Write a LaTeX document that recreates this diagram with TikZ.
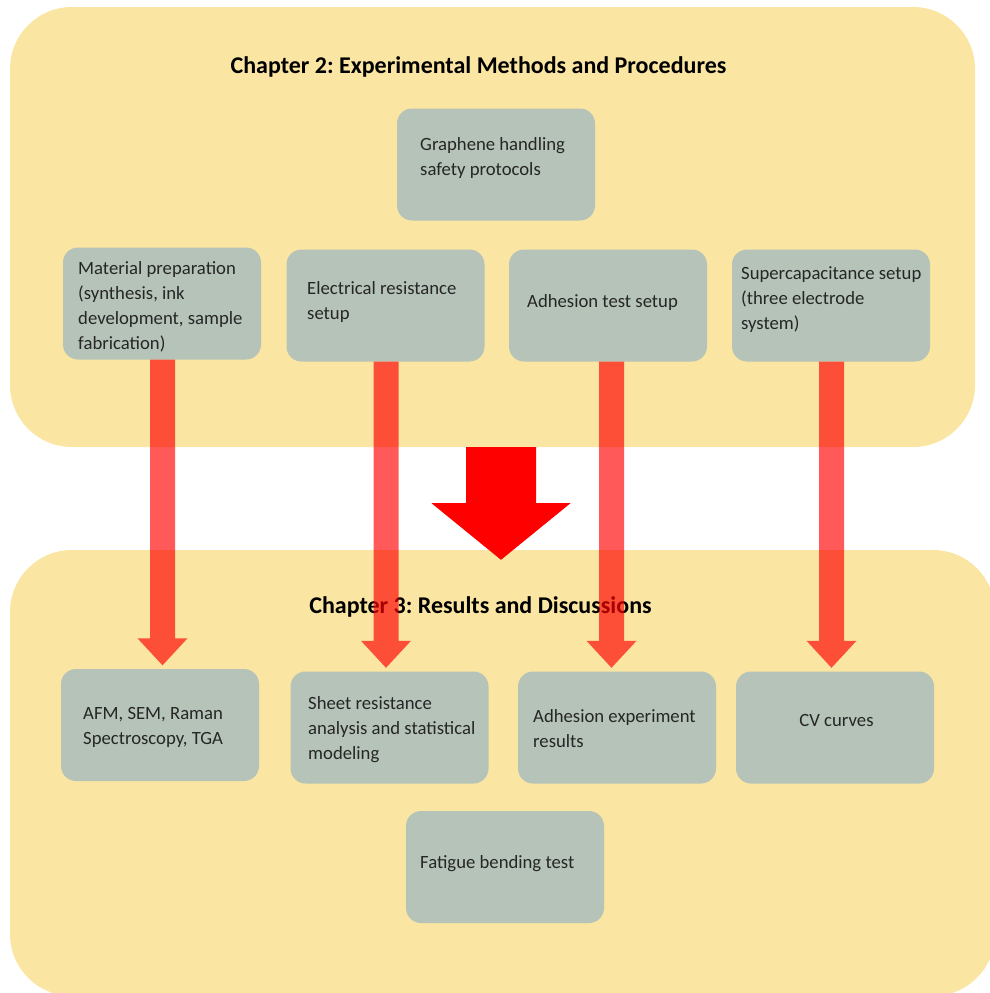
\documentclass[tikz,border=0pt]{standalone}
\usepackage{fontspec}
\setmainfont{Carlito}
\usetikzlibrary{calc}
\frenchspacing
\definecolor{panelY}{HTML}{FAE5A2}
\definecolor{boxG}{HTML}{B5C3B8}
\definecolor{txtC}{HTML}{262626}
\newcommand\fatarr[3]{%
  \fill[thinarrow] let \p1=(#1.south), \p2=(#2.north) in
  (\x1+#3pt-12.5pt,\y1) -- (\x1+#3pt-12.5pt,\y2+30.5pt) -- (\x1+#3pt-25pt,\y2+30.5pt)
  -- (\x1+#3pt,\y2+3.5pt) -- (\x1+#3pt+25pt,\y2+30.5pt) -- (\x1+#3pt+12.5pt,\y2+30.5pt)
  -- (\x1+#3pt+12.5pt,\y1) -- cycle;}
\begin{document}
\begin{tikzpicture}[x=1pt,y=-1pt,
  panel/.style={fill=panelY, draw=none, rounded corners=62pt, inner sep=0pt},
  cbox/.style={fill=boxG, draw=none, rounded corners=15pt, minimum width=198pt, minimum height=112pt, inner sep=0pt},
  ctext/.style={anchor=west, align=left, inner sep=0pt, text=txtC, font=\fontsize{18.7}{25}\selectfont},
  ctitle/.style={inner sep=0pt, font=\fontsize{24}{28}\selectfont\bfseries},
  thinarrow/.style={fill=red, fill opacity=0.65},
  bigarrow/.style={fill=red}]
\useasboundingbox (0,0) rectangle (989,993);

% panels
\node[panel, minimum width=965pt, minimum height=440pt] (p2) at (492.5,227) {};
\node[panel, minimum width=985pt, minimum height=446pt] (p3) at (502.5,773) {};

% boxes, chapter 2
\node[cbox] (b0) at (496,164.5) {};
\node[cbox] (b1) at (162,303.5) {};
\node[cbox] (b2) at (385.5,305.5) {};
\node[cbox] (b3) at (608,305.5) {};
\node[cbox] (b4) at (831,305.5) {};
% boxes, chapter 3
\node[cbox] (r1) at (160,725) {};
\node[cbox] (r2) at (389.5,727.5) {};
\node[cbox] (r3) at (617,727.5) {};
\node[cbox] (r4) at (835,727.5) {};
\node[cbox] (r5) at (505,867) {};

% texts
\node[ctext] (t0) at (420,157.5) {\strut Graphene handling\\\strut safety protocols};
\node[ctext] (t1) at (78,306.5) {\strut Material preparation\\\strut (synthesis, ink\\\strut development, sample\\\strut fabrication)};
\node[ctext] (t2) at (307,302) {\strut Electrical resistance\\\strut setup};
\node[ctext] (t3) at (527,302) {\strut Adhesion test setup};
\node[ctext] (t4) at (741,299) {\strut Supercapacitance setup\\\strut (three electrode\\\strut system)};
\node[ctext] (s1) at (83,726.5) {\strut AFM, SEM, Raman\\\strut Spectroscopy, TGA};
\node[ctext] (s2) at (308,729) {\strut Sheet resistance\\\strut analysis and statistical\\\strut modeling};
\node[ctext] (s3) at (533,729.5) {\strut Adhesion experiment\\\strut results};
\node[ctext, anchor=center] (s4) at (836.5,721) {\strut CV curves};
\node[ctext] (s5) at (420,863) {\strut Fatigue bending test};

% big arrow between the chapters
\fill[bigarrow] let \p1=(p2.south), \p2=(p3.north) in
  (\x1+8.5pt-35pt,\y1) -- (\x1+8.5pt-35pt,\y1-56pt) -- (\x1+8.5pt-69.5pt,\y1-56pt)
  -- (\x1+8.5pt,\y2-10pt) -- (\x1+8.5pt+69.5pt,\y1-56pt) -- (\x1+8.5pt+35pt,\y1-56pt)
  -- (\x1+8.5pt+35pt,\y1) -- cycle;

% titles
\node[ctitle] (h2) at (478.5,67) {Chapter 2: Experimental Methods and Procedures};
\node[ctitle] (h3) at (480.5,607) {Chapter 3: Results and Discussions};

% thin arrows
\fatarr{b1}{r1}{0.5}
\fatarr{b2}{r2}{0.5}
\fatarr{b3}{r3}{3.5}
\fatarr{b4}{r4}{0.5}
\end{tikzpicture}
\end{document}
